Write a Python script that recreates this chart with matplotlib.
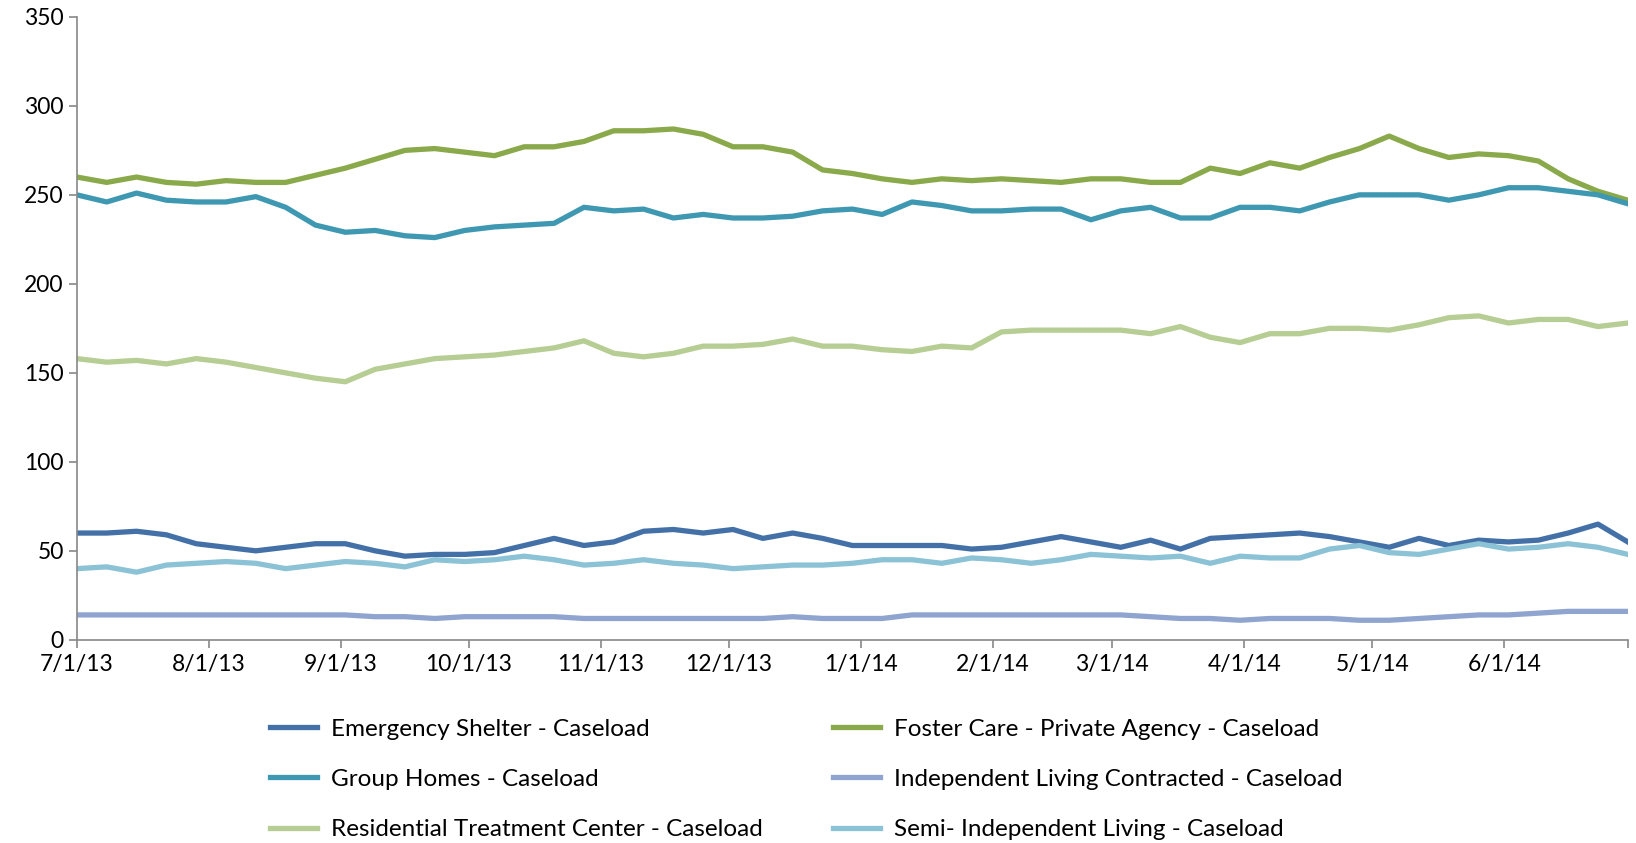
import matplotlib
matplotlib.use("Agg")
import matplotlib.pyplot as plt
import pandas as pd

# weekly readings, 7/1/13 .. 6/30/14
dates = pd.date_range("2013-07-01", periods=53, freq="7D")

emergency_shelter = [60, 60, 61, 59, 54, 52, 50, 52, 54, 54, 50, 47, 48,
                     48, 49, 53, 57, 53, 55, 61, 62, 60, 62, 57, 60, 57,
                     53, 53, 53, 53, 51, 52, 55, 58, 55, 52, 56, 51, 57,
                     58, 59, 60, 58, 55, 52, 57, 53, 56, 55, 56, 60, 65, 55]
foster_care = [260, 257, 260, 257, 256, 258, 257, 257, 261, 265, 270, 275, 276,
               274, 272, 277, 277, 280, 286, 286, 287, 284, 277, 277, 274, 264,
               262, 259, 257, 259, 258, 259, 258, 257, 259, 259, 257, 257, 265,
               262, 268, 265, 271, 276, 283, 276, 271, 273, 272, 269, 259, 252, 247]
group_homes = [250, 246, 251, 247, 246, 246, 249, 243, 233, 229, 230, 227, 226,
               230, 232, 233, 234, 243, 241, 242, 237, 239, 237, 237, 238, 241,
               242, 239, 246, 244, 241, 241, 242, 242, 236, 241, 243, 237, 237,
               243, 243, 241, 246, 250, 250, 250, 247, 250, 254, 254, 252, 250, 245]
independent_living = [14, 14, 14, 14, 14, 14, 14, 14, 14, 14, 13, 13, 12,
                      13, 13, 13, 13, 12, 12, 12, 12, 12, 12, 12, 13, 12,
                      12, 12, 14, 14, 14, 14, 14, 14, 14, 14, 13, 12, 12,
                      11, 12, 12, 12, 11, 11, 12, 13, 14, 14, 15, 16, 16, 16]
residential_treatment = [158, 156, 157, 155, 158, 156, 153, 150, 147, 145, 152, 155, 158,
                         159, 160, 162, 164, 168, 161, 159, 161, 165, 165, 166, 169, 165,
                         165, 163, 162, 165, 164, 173, 174, 174, 174, 174, 172, 176, 170,
                         167, 172, 172, 175, 175, 174, 177, 181, 182, 178, 180, 180, 176, 178]
semi_independent = [40, 41, 38, 42, 43, 44, 43, 40, 42, 44, 43, 41, 45,
                    44, 45, 47, 45, 42, 43, 45, 43, 42, 40, 41, 42, 42,
                    43, 45, 45, 43, 46, 45, 43, 45, 48, 47, 46, 47, 43,
                    47, 46, 46, 51, 53, 49, 48, 51, 54, 51, 52, 54, 52, 48]

series = [
    ("Emergency Shelter - Caseload", emergency_shelter, "#4470a8"),
    ("Foster Care - Private Agency - Caseload", foster_care, "#89a94b"),
    ("Group Homes - Caseload", group_homes, "#3f98b2"),
    ("Independent Living Contracted - Caseload", independent_living, "#8fa5cf"),
    ("Residential Treatment Center - Caseload", residential_treatment, "#b6cd94"),
    ("Semi- Independent Living - Caseload", semi_independent, "#8cc2d5"),
]

plt.rcParams["font.family"] = ["Lato", "DejaVu Sans"]

fig = plt.figure(figsize=(16.36, 8.43), dpi=100)
ax = fig.add_axes([0.047, 0.241, 0.948, 0.739])

lines = {}
for name, vals, color in series:
    (ln,) = ax.plot(dates, vals, color=color, lw=3.8, label=name,
                    solid_joinstyle="round")
    lines[name] = ln

ax.set_ylim(0, 350)
ax.set_yticks(range(0, 351, 50))
ax.set_xlim(pd.Timestamp("2013-07-01"), pd.Timestamp("2014-06-30"))
month_ticks = list(pd.date_range("2013-07-01", "2014-06-01", freq="MS"))
ax.set_xticks(month_ticks + [pd.Timestamp("2014-06-30")])
ax.set_xticklabels([f"{d.month}/{d.day}/{d.strftime('%y')}" for d in month_ticks] + [""])

for s in ("top", "right"):
    ax.spines[s].set_visible(False)
for s in ("left", "bottom"):
    ax.spines[s].set_color("#888888")
    ax.spines[s].set_linewidth(1.2)
ax.tick_params(axis="both", colors="#888888", labelcolor="black",
               labelsize=16.5, length=6, width=1.2)
ax.tick_params(axis="x", pad=4)

# legend in reference order: rows go left-right
order = [0, 2, 4, 1, 3, 5]
handles = [lines[series[i][0]] for i in order]
labels = [series[i][0] for i in order]
fig.legend(handles, labels, ncol=2, loc="upper left",
           bbox_to_anchor=(0.159, 0.159), frameon=False, fontsize=17.5,
           handlelength=1.95, handletextpad=0.55, columnspacing=2.9,
           labelspacing=1.2, borderaxespad=0)

fig.savefig("out.png", dpi=100)
